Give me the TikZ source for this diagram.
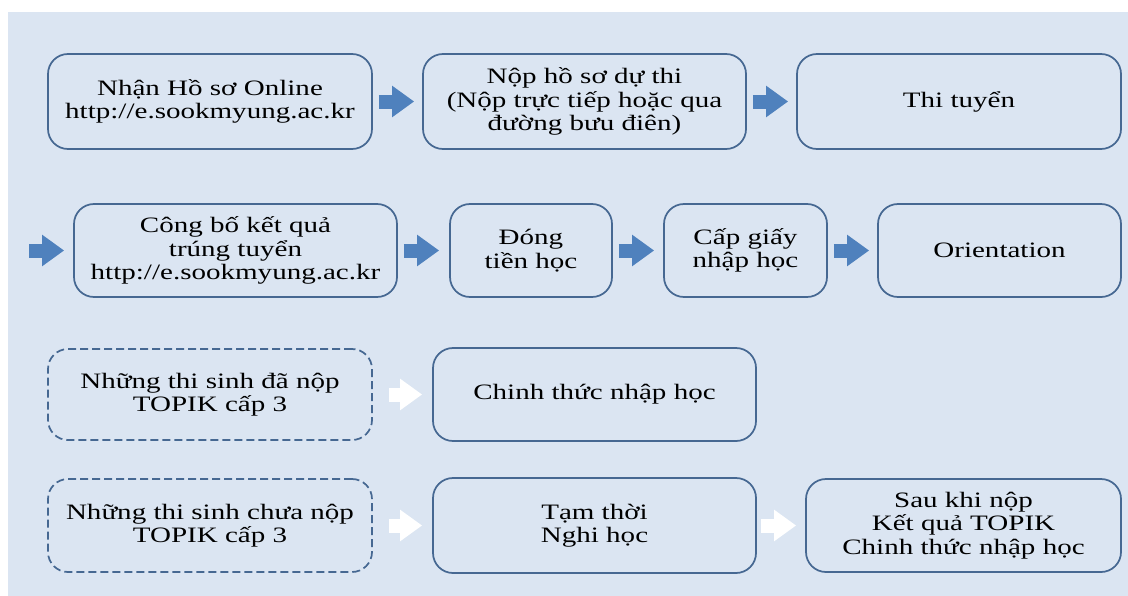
\documentclass[tikz,border=0pt]{standalone}
\usepackage{fontspec}
\setmainfont{Liberation Serif}[FakeStretch=1.32]
\usetikzlibrary{arrows.meta}
\definecolor{bgblue}{RGB}{219,229,242}
\definecolor{boxline}{RGB}{70,104,146}
\definecolor{arrowblue}{RGB}{79,129,189}

\begin{document}
\begin{tikzpicture}[x=0.75pt,y=0.75pt,yscale=-1,xscale=1,
  stepbox/.style={draw=boxline,line width=1.3pt,rounded corners=15pt,fill=bgblue,
    align=center,inner sep=0pt,font=\fontsize{16.5}{17.6}\selectfont},
  waitbox/.style={stepbox,dash pattern=on 6pt off 3pt},
  bluearrow/.style={draw=arrowblue,line width=10.5pt,-{Triangle[length=16.5pt,width=22.5pt]},
    shorten <=4.5pt,shorten >=6pt},
  whitearrow/.style={bluearrow,draw=white}]
%set diagram size 1128 x 596
\useasboundingbox (0,0) rectangle (1128,596);
\fill [white] (0,0) rectangle (1128,596);
\fill [bgblue] (8,12) rectangle (1128,596);

%Row 1
\node [stepbox,minimum width=243pt,minimum height=71.25pt] (nhan) at (210,101.5) {Nhận Hồ sơ Online\\http://e.sookmyung.ac.kr};
\node [stepbox,minimum width=242.25pt,minimum height=71.25pt] (nop) at (584.5,101.5) {Nộp hồ sơ dự thi\\(Nộp trực tiếp hoặc qua\\đường bưu điên)};
\node [stepbox,minimum width=243pt,minimum height=71.25pt] (thi) at (959,101.5) {Thi tuyển};

%Row 2
\coordinate (entry) at (29,250.5);
\node [stepbox,minimum width=242.25pt,minimum height=69.75pt] (congbo) at (235.5,250.5) {Công bố kết quả\\trúng tuyển\\http://e.sookmyung.ac.kr};
\node [stepbox,minimum width=121.5pt,minimum height=69.75pt] (dong) at (531,250.5) {Đóng\\tiền học};
\node [stepbox,minimum width=122.25pt,minimum height=69.75pt] (cap) at (745.5,250.5) {Cấp giấy\\nhập học};
\node [stepbox,minimum width=182.25pt,minimum height=69.75pt] (orient) at (999.5,250.5) {Orientation};

%Row 3
\node [waitbox,minimum width=243pt,minimum height=68.25pt] (danop) at (210,394.5) {Những thi sinh đã nộp\\TOPIK cấp 3};
\node [stepbox,minimum width=242.25pt,minimum height=69.75pt] (chinh) at (594.5,394.5) {Chinh thức nhập học};

%Row 4
\node [waitbox,minimum width=243pt,minimum height=69.75pt] (chuanop) at (210,525.5) {Những thi sinh chưa nộp\\TOPIK cấp 3};
\node [stepbox,minimum width=242.25pt,minimum height=71.25pt] (tamthoi) at (594.5,525.5) {Tạm thời\\Nghi học};
\node [stepbox,minimum width=236.25pt,minimum height=69.75pt] (sau) at (963.5,525.5) {Sau khi nộp\\Kết quả TOPIK\\Chinh thức nhập học};

%Arrows
\draw [bluearrow] (nhan) -- (nop);
\draw [bluearrow] (nop) -- (thi);
\draw [bluearrow,shorten <=0pt,shorten >=6.75pt] (entry) -- (congbo);
\draw [bluearrow,shorten >=7.5pt] (congbo) -- (dong);
\draw [bluearrow,shorten >=6.75pt] (dong) -- (cap);
\draw [bluearrow] (cap) -- (orient);
\draw [whitearrow,shorten <=12pt,shorten >=7.5pt] (danop) -- (chinh);
\draw [whitearrow,shorten <=12pt,shorten >=7.5pt] (chuanop) -- (tamthoi);
\draw [whitearrow,shorten <=3pt,shorten >=6.75pt] (tamthoi) -- (sau);

\end{tikzpicture}
\end{document}
